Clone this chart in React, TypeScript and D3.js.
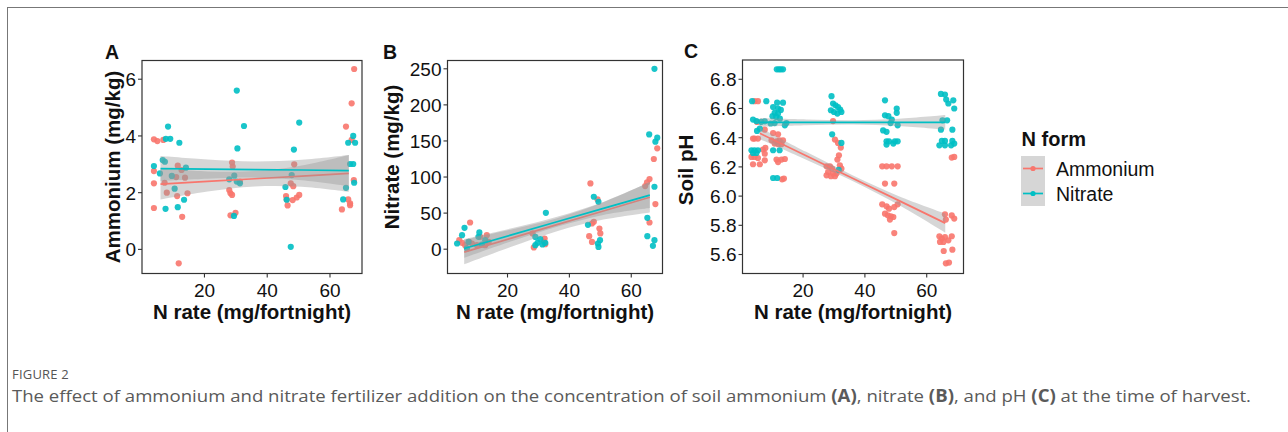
import React from "react";
import * as d3 from "d3";

// ---------- shared ----------
const seriesNames = ["Ammonium", "Nitrate"];
const seriesColors = ["#F8766D", "#00BFC4"];
const nRateTicks = [20, 40, 60];
const fitX = [6, 21, 36, 51, 66];

// ---------- Panel A: soil ammonium ----------
const ammoniumTicks = [0, 2, 4, 6];
const aAmmonium: [number, number][] = [
  [3.9, 3.88], [5.0, 3.82], [6.9, 3.86], [3.9, 2.76], [3.9, 2.33], [3.9, 1.46], [11.5, 2.95], [12.7, 2.8],
  [13.8, 2.53], [8, 2.0], [11.3, 1.88], [14.6, 1.98], [12.9, 1.15], [11.8, -0.49], [7.3, 2.35], [11.0, 2.55],
  [28.8, 3.06], [29, 2.92], [27.9, 2.09], [28.3, 1.98], [28.8, 1.92], [28.3, 1.2], [29.9, 1.29], [31.3, 2.39],
  [48.6, 3.0], [47.5, 2.33], [48.3, 2.23], [46, 1.88], [46.2, 1.76], [46.5, 1.55], [48.1, 1.74], [49.4, 1.83], [50.2, 1.92],
  [67.7, 6.36], [66.9, 5.15], [65.1, 4.33], [66.9, 3.86], [63.8, 1.41], [65.8, 1.76], [66.4, 1.62], [66.4, 1.56], [67.6, 2.44],
];
const aNitrate: [number, number][] = [
  [3.9, 2.94], [8.4, 4.33], [7.7, 3.9], [9.1, 3.9], [12.0, 3.76], [6.7, 3.15], [7.4, 3.09], [5.8, 2.68], [9.6, 2.59],
  [10.5, 2.14], [14.1, 2.88], [7.6, 1.43], [11.5, 1.49], [13.5, 1.75],
  [30.3, 5.6], [32.6, 4.35], [30.5, 3.56], [27.9, 2.47], [30.3, 2.39], [31.3, 2.33], [29.4, 1.18], [29.5, 2.6],
  [50.2, 4.47], [48.5, 3.52], [47.8, 2.62], [45.8, 2.2], [46.2, 1.75], [47.5, 0.09],
  [67.4, 4.0], [65.8, 3.76], [68, 3.76], [66.4, 3.01], [67.4, 3.01], [65.1, 2.17], [67.7, 2.35], [64.2, 1.76],
];
const aAmmFit = [2.30, 2.395, 2.49, 2.585, 2.68];
const aAmmLo = [1.76, 2.04, 2.22, 2.21, 2.03];
const aAmmHi = [2.84, 2.75, 2.76, 2.96, 3.33];
const aNitFit = [2.85, 2.83, 2.815, 2.80, 2.78];
const aNitLo = [2.41, 2.49, 2.53, 2.44, 2.23];
const aNitHi = [3.29, 3.17, 3.10, 3.16, 3.33];

// ---------- Panel B: soil nitrate ----------
const nitrateTicks = [0, 50, 100, 150, 200, 250];
const bAmmonium: [number, number][] = [
  [68.4, 139.8], [67.3, 125], [67.8, 62.5], [65.9, 97.2], [65.1, 92.6], [64.5, 87.5], [65.9, 37],
  [46.8, 91.2], [47.9, 37.9], [47.3, 35.6], [46.4, 18], [47.3, 10.1], [49.7, 28.7], [50, 21.8], [49.1, 69],
  [28.1, 21.8], [28.5, 2.4], [32, 14.8], [32.2, 6.9], [31.8, 10.1],
  [7.9, 37], [4.4, 12.5], [5.3, 8.8], [7.6, 10.1], [8.5, 7.9], [11.2, 17.1], [13.3, 19.4], [13.9, 10.1], [12.8, 5.6], [10.1, 5.6], [6.3, 5.6],
];
const bNitrate: [number, number][] = [
  [67.5, 250], [65.8, 159], [68.4, 154.6], [67.8, 149], [67.5, 86.5], [65.2, 43.5], [65.2, 18], [67.5, 12.5], [67, 4.6],
  [47.9, 72.7], [49.4, 65.7], [46, 33.8], [49.9, 12.5], [49.2, 7.9], [49.4, 3.2],
  [32.4, 50.4], [29, 17], [30.6, 13.9], [29.7, 8.8], [31.3, 6.5], [29, 5.6], [32.2, 8.8],
  [3.7, 7.9], [5.3, 19.4], [6.1, 29.6], [10.9, 23.2], [10.6, 17.1], [7.4, 10.1], [12.8, 12.5], [11.7, 6.5], [6.9, 1],
];
const bAmmFit = [-4, 15, 34, 53, 72];
const bAmmLo = [-21, 3, 25, 41, 51];
const bAmmHi = [13, 27, 43, 65, 93];
const bNitFit = [1, 19.5, 38, 56.5, 75];
const bNitLo = [-12, 10.5, 31, 47.5, 57];
const bNitHi = [14, 28.5, 45, 65.5, 93];

// ---------- Panel C: soil pH ----------
const phTicks = [5.6, 5.8, 6.0, 6.2, 6.4, 6.6, 6.8];
const cAmmonium: [number, number][] = [
  [4.3, 6.65], [5.4, 6.65], [5.1, 6.508], [7.6, 6.455], [3.8, 6.394], [4.3, 6.394], [5.4, 6.394],
  [3.3, 6.268], [4.3, 6.268], [5.4, 6.261], [7, 6.319], [7.8, 6.33], [7.6, 6.29], [3.8, 6.218], [6, 6.218], [7.6, 6.245],
  [10.3, 6.432], [11.9, 6.423], [9.8, 6.382], [11.4, 6.375], [12.4, 6.382], [13.5, 6.382], [10.8, 6.36], [12, 6.355], [13, 6.355],
  [11.4, 6.25], [13, 6.25], [14.1, 6.254], [11.9, 6.233], [13.8, 6.12], [13.2, 6.115],
  [29.7, 6.514], [30.3, 6.387], [31.3, 6.364], [32.2, 6.332], [31.6, 6.279], [31.1, 6.25], [31.9, 6.211], [32.4, 6.188],
  [27.6, 6.204], [28.7, 6.204], [29.4, 6.188], [28.1, 6.165], [29.7, 6.154], [30.8, 6.154], [27.6, 6.142], [29, 6.136], [30.3, 6.136], [31.6, 6.177],
  [45.6, 6.204], [47, 6.204], [48.7, 6.204], [50.6, 6.204], [46.5, 6.086], [49.5, 6.086],
  [45.6, 5.944], [47, 5.93], [47.8, 5.914], [49.5, 5.925], [50.6, 5.944],
  [46.5, 5.88], [47.4, 5.869], [48.4, 5.862], [49.2, 5.857], [48.1, 5.839], [49.5, 5.747],
  [65.9, 5.875], [68.1, 5.868], [68.9, 5.846], [66.2, 5.839],
  [64.1, 5.725], [64.9, 5.709], [65.9, 5.72], [67, 5.697], [64.3, 5.686], [65.4, 5.686], [68.1, 5.725],
  [65.5, 5.624], [68.3, 5.633], [66.2, 5.54], [67.2, 5.545], [68.9, 6.268], [68.1, 6.264],
];
const cNitrate: [number, number][] = [
  [11.5, 6.868], [12.2, 6.868], [12.8, 6.868], [13.5, 6.868],
  [3.5, 6.65], [8.1, 6.65], [11.6, 6.64], [13.5, 6.64],
  [10.3, 6.61], [11.9, 6.60], [12.8, 6.59], [10.8, 6.57], [11.9, 6.565], [10.1, 6.547], [11.3, 6.542], [12.5, 6.53],
  [3.8, 6.524], [4.9, 6.514], [6.5, 6.508], [7.6, 6.512], [9.5, 6.497], [10.8, 6.5], [14.1, 6.485], [14.6, 6.5],
  [5.1, 6.446], [6, 6.462], [3.3, 6.314], [4.3, 6.314], [5.4, 6.314], [3.8, 6.295], [4.9, 6.295],
  [10.3, 6.314], [12.4, 6.314], [10.3, 6.124], [11.6, 6.124],
  [29.2, 6.684], [29.7, 6.634], [30.5, 6.622], [31.3, 6.61], [32, 6.592], [32.4, 6.576], [29, 6.588], [30, 6.576], [31.1, 6.565],
  [29.4, 6.423], [32.4, 6.364], [31.5, 6.18],
  [46.5, 6.656], [46.5, 6.553], [47.6, 6.547], [50.3, 6.6], [50.3, 6.57], [48.7, 6.524], [48.3, 6.5], [50.6, 6.485], [45.9, 6.45], [47, 6.44],
  [47, 6.375], [47.8, 6.375], [49.7, 6.375], [50.6, 6.375], [47, 6.353], [49.2, 6.36],
  [64.6, 6.70], [65.9, 6.695], [68.6, 6.656], [66.3, 6.661], [67, 6.634], [68.9, 6.60], [65.1, 6.519], [66.6, 6.519],
  [64.6, 6.455], [68.3, 6.455], [64.9, 6.378], [65.9, 6.378], [68.3, 6.378], [68.9, 6.36], [64.1, 6.348], [65.9, 6.348], [67.9, 6.348],
];
const cAmmFit = [6.43, 6.276, 6.123, 5.969, 5.815];
const cAmmLo = [6.39, 6.249, 6.103, 5.939, 5.75];
const cAmmHi = [6.47, 6.303, 6.143, 5.999, 5.88];
const cNitFit = [6.505, 6.505, 6.505, 6.505, 6.505];
const cNitLo = [6.475, 6.485, 6.49, 6.48, 6.455];
const cNitHi = [6.535, 6.525, 6.52, 6.53, 6.555];

const FONT = "'Liberation Sans', Arial, Helvetica, sans-serif";
const TICK_FS = 19;
const TITLE_FS = 20.5;

type Fit = { fit: number[]; lo: number[]; hi: number[] };
type PanelCfg = {
  letter: string;
  ytitle: string;
  frame: { l: number; r: number; t: number; b: number };
  xdom: [number, number];
  ydom: [number, number];
  yticks: number[];
  yfmt: (v: number) => string;
  pts: [number, number][][];
  fits: Fit[];
  letterPos: [number, number];
  ytitlePos: [number, number];
};

const panels: PanelCfg[] = [
  {
    letter: "A", ytitle: "Ammonium (mg/kg)",
    frame: { l: 142, r: 362, t: 60.5, b: 273.5 },
    xdom: [0.1, 70.2], ydom: [-0.85, 6.66], yticks: ammoniumTicks, yfmt: (v) => String(v),
    pts: [aAmmonium, aNitrate],
    fits: [{ fit: aAmmFit, lo: aAmmLo, hi: aAmmHi }, { fit: aNitFit, lo: aNitLo, hi: aNitHi }],
    letterPos: [105, 59], ytitlePos: [120, 167],
  },
  {
    letter: "B", ytitle: "Nitrate (mg/kg)",
    frame: { l: 447.5, r: 662.5, t: 60.5, b: 273.5 },
    xdom: [0.6, 70.1], ydom: [-33.7, 261.5], yticks: nitrateTicks, yfmt: (v) => String(v),
    pts: [bAmmonium, bNitrate],
    fits: [{ fit: bAmmFit, lo: bAmmLo, hi: bAmmHi }, { fit: bNitFit, lo: bNitLo, hi: bNitHi }],
    letterPos: [383, 59], ytitlePos: [399, 157],
  },
  {
    letter: "C", ytitle: "Soil pH",
    frame: { l: 742.5, r: 963.5, t: 60, b: 273.5 },
    xdom: [0.4, 71.9], ydom: [5.47, 6.932], yticks: phTicks, yfmt: (v) => v.toFixed(1),
    pts: [cAmmonium, cNitrate],
    fits: [{ fit: cAmmFit, lo: cAmmLo, hi: cAmmHi }, { fit: cNitFit, lo: cNitLo, hi: cNitHi }],
    letterPos: [684, 58], ytitlePos: [693, 170],
  },
];

function Panel({ p }: { p: PanelCfg }) {
  const { l, r, t, b } = p.frame;
  const x = d3.scaleLinear().domain(p.xdom).range([l, r]);
  const y = d3.scaleLinear().domain(p.ydom).range([b, t]);
  const area = d3
    .area<number>()
    .x((_, i) => x(fitX[i]))
    .curve(d3.curveCatmullRom);
  const line = d3
    .line<number>()
    .x((_, i) => x(fitX[i]))
    .y((v) => y(v))
    .curve(d3.curveLinear);
  const clipId = `clip-${p.letter}`;
  return (
    <g>
      <defs>
        <clipPath id={clipId}>
          <rect x={l} y={t} width={r - l} height={b - t} />
        </clipPath>
      </defs>
      <g clipPath={`url(#${clipId})`}>
        {p.pts.map((pts, si) =>
          pts.map((d, i) => (
            <circle key={`${si}-${i}`} cx={x(d[0])} cy={y(d[1])} r={3.1} fill={seriesColors[si]} fillOpacity={0.9} />
          ))
        )}
        {p.fits.map((f, si) => {
          const a = area.y0((_, i) => y(f.lo[i])).y1((_, i) => y(f.hi[i]));
          return (
            <g key={si}>
              <path d={a(f.fit) || ""} fill="#999999" fillOpacity={0.4} />
              <path d={line(f.fit) || ""} fill="none" stroke={seriesColors[si]} strokeWidth={1.7} />
            </g>
          );
        })}
      </g>
      <rect x={l} y={t} width={r - l} height={b - t} fill="none" stroke="#333" strokeWidth={1.2} />
      {nRateTicks.map((v) => (
        <g key={v}>
          <line x1={x(v)} x2={x(v)} y1={b} y2={b + 4} stroke="#333" strokeWidth={1.1} />
          <text x={x(v)} y={297} textAnchor="middle" fontSize={TICK_FS} fill="#111" fontFamily={FONT}>
            {v}
          </text>
        </g>
      ))}
      {p.yticks.map((v) => (
        <g key={v}>
          <line x1={l - 4} x2={l} y1={y(v)} y2={y(v)} stroke="#333" strokeWidth={1.1} />
          <text x={l - 6} y={y(v)} dy="0.36em" textAnchor="end" fontSize={TICK_FS} fill="#111" fontFamily={FONT}>
            {p.yfmt(v)}
          </text>
        </g>
      ))}
      <text x={(l + r) / 2} y={319} textAnchor="middle" fontSize={TITLE_FS} fontWeight="bold" fill="#111" fontFamily={FONT}>
        N rate (mg/fortnight)
      </text>
      <text
        transform={`translate(${p.ytitlePos[0]},${p.ytitlePos[1]}) rotate(-90)`}
        textAnchor="middle"
        fontSize={TITLE_FS}
        fontWeight="bold"
        fill="#111"
        fontFamily={FONT}
      >
        {p.ytitle}
      </text>
      <text x={p.letterPos[0]} y={p.letterPos[1]} fontSize={19.5} fontWeight="bold" fill="#111" fontFamily={FONT}>
        {p.letter}
      </text>
    </g>
  );
}

function Legend() {
  const x0 = 1021;
  const y0 = 156;
  const kh = 25;
  return (
    <g fontFamily={FONT}>
      <text x={1021.5} y={146} fontSize={20} fontWeight="bold" fill="#111">
        N form
      </text>
      {seriesNames.map((name, i) => {
        const cy = y0 + kh * i + kh / 2;
        return (
          <g key={name}>
            <rect x={x0} y={y0 + kh * i} width={24} height={kh} fill="#d6d6d6" />
            <line x1={x0 + 2} x2={x0 + 22} y1={cy} y2={cy} stroke={seriesColors[i]} strokeWidth={1.7} />
            <circle cx={x0 + 12} cy={cy} r={2.6} fill={seriesColors[i]} />
            <text x={1056} y={cy + 7.5} fontSize={19.5} fill="#111">
              {name}
            </text>
          </g>
        );
      })}
    </g>
  );
}

export default function App() {
  return (
    <svg
      width={1288}
      height={432}
      viewBox="0 0 1288 432"
      style={{ position: "absolute", left: 0, top: 0, background: "#fff" }}
    >
      <rect x={0} y={0} width={1288} height={432} fill="#fff" />
      <line x1={7} x2={1288} y1={7.5} y2={7.5} stroke="#777" strokeWidth={1} />
      <line x1={7.5} x2={7.5} y1={7} y2={432} stroke="#777" strokeWidth={1} />
      {panels.map((p) => (
        <Panel key={p.letter} p={p} />
      ))}
      <Legend />
      <text x={12} y={379} fontSize={13} fill="#555" fontFamily="'Open Sans', 'Noto Sans', sans-serif" letterSpacing="0.2">
        FIGURE 2
      </text>
      <text
        x={12}
        y={402}
        fontSize={17}
        fill="#5a5a5a"
        fontFamily="'Open Sans', 'Noto Sans', sans-serif"
        textLength={1239}
        lengthAdjust="spacingAndGlyphs"
      >
        The effect of ammonium and nitrate fertilizer addition on the concentration of soil ammonium{" "}
        <tspan fontWeight="bold">(A)</tspan>, nitrate <tspan fontWeight="bold">(B)</tspan>, and pH{" "}
        <tspan fontWeight="bold">(C)</tspan> at the time of harvest.
      </text>
    </svg>
  );
}
